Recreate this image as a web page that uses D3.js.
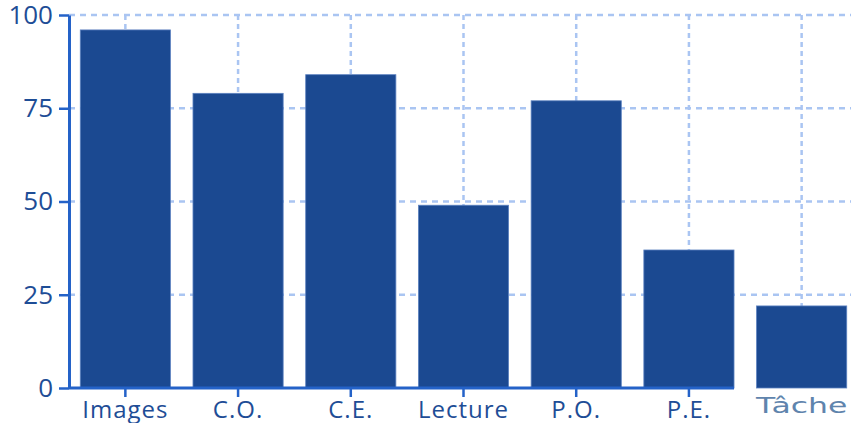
<!DOCTYPE html>
<html>
<head>
    <title>scores</title>
    <script src="https://d3js.org/d3.v7.min.js"></script>
    <style>
        body { margin: 0; background: #fff; }
    </style>
</head>
<body>
    <svg width="851" height="423" id="mainsvg"></svg>
    <script>
        // values
        const categories = ['Images', 'C.O.', 'C.E.', 'Lecture', 'P.O.', 'P.E.', 'Tâche'];
        const values = [96, 79, 84, 49, 77, 37, 22];
        const yTicks = [0, 25, 50, 75, 100];

        const svg = d3.select('#mainsvg');
        const width = +svg.attr('width');
        const height = +svg.attr('height');
        const margin = { top: 15, right: -7, bottom: 35, left: 69 };
        const innerWidth = width - margin.left - margin.right;
        const innerHeight = height - margin.top - margin.bottom;

        const axisColor = '#2462c8';
        const textColor = '#1e4d96';
        const barColor = '#1b4991';
        const gridColor = '#aac5f2';

        const g = svg.append('g')
            .attr('transform', `translate(${margin.left}, ${margin.top})`);

        const xScale = d3.scaleBand()
            .domain(categories)
            .range([0, innerWidth])
            .paddingInner(0.2)
            .paddingOuter(0.1);

        const yScale = d3.scaleLinear()
            .domain([0, 100])
            .range([innerHeight, 0]);

        const data = categories.map((c, i) => ({ cat: c, value: values[i] }));

        // grid
        g.selectAll('.hgrid').data(yTicks.filter(t => t > 0)).join('line')
            .attr('class', 'hgrid')
            .attr('x1', 0).attr('x2', width - margin.left)
            .attr('y1', d => yScale(d)).attr('y2', d => yScale(d))
            .attr('stroke', gridColor).attr('stroke-width', 2.5)
            .attr('stroke-dasharray', '6,5');

        g.selectAll('.vgrid').data(categories).join('line')
            .attr('class', 'vgrid')
            .attr('x1', d => xScale(d) + xScale.bandwidth() / 2)
            .attr('x2', d => xScale(d) + xScale.bandwidth() / 2)
            .attr('y1', yScale(100)).attr('y2', innerHeight)
            .attr('stroke', gridColor).attr('stroke-width', 2.5)
            .attr('stroke-dasharray', '5,4');

        // bars
        g.selectAll('.bar').data(data).join('rect')
            .attr('class', 'bar')
            .attr('x', d => xScale(d.cat))
            .attr('y', d => yScale(d.value))
            .attr('width', xScale.bandwidth())
            .attr('height', d => innerHeight - yScale(d.value))
            .attr('fill', barColor)
            .attr('stroke', '#5d82c0').attr('stroke-width', 0.8);

        // y axis
        const yAxisGroup = g.append('g')
            .call(d3.axisLeft(yScale).tickValues(yTicks).tickSize(10).tickPadding(6).tickSizeOuter(0));
        yAxisGroup.select('.domain').attr('stroke', axisColor).attr('stroke-width', 3);
        yAxisGroup.selectAll('.tick line').attr('stroke', axisColor).attr('stroke-width', 2.5);
        yAxisGroup.selectAll('.tick text')
            .attr('fill', textColor)
            .attr('font-family', '"Open Sans", sans-serif')
            .attr('font-size', 26);

        // x axis (domain line stops at the last but one bar, like the reference)
        const lastBand = categories[categories.length - 2];
        const xAxisGroup = g.append('g')
            .attr('transform', `translate(0, ${innerHeight})`)
            .call(d3.axisBottom(xScale).tickSize(9).tickPadding(4).tickSizeOuter(0));
        xAxisGroup.select('.domain').remove();
        xAxisGroup.append('line')
            .attr('x1', 0).attr('x2', xScale(lastBand) + xScale.bandwidth())
            .attr('stroke', axisColor).attr('stroke-width', 3);
        xAxisGroup.selectAll('.tick line').attr('stroke', axisColor).attr('stroke-width', 2.5);
        xAxisGroup.selectAll('.tick')
            .filter(d => d === 'Tâche').select('line').remove();
        xAxisGroup.selectAll('.tick text')
            .attr('fill', textColor)
            .attr('font-family', '"Open Sans", sans-serif')
            .attr('font-size', 24)
            .attr('letter-spacing', 1);
        xAxisGroup.selectAll('.tick')
            .filter(d => d === 'Tâche').select('text')
            .attr('fill', '#5f84ad')
            .attr('font-family', '"DejaVu Sans", sans-serif')
            .attr('font-size', 21)
            .attr('letter-spacing', 0)
            .attr('dy', '0.55em')
            .attr('transform', 'scale(1.5,1)');
    </script>
</body>
</html>
